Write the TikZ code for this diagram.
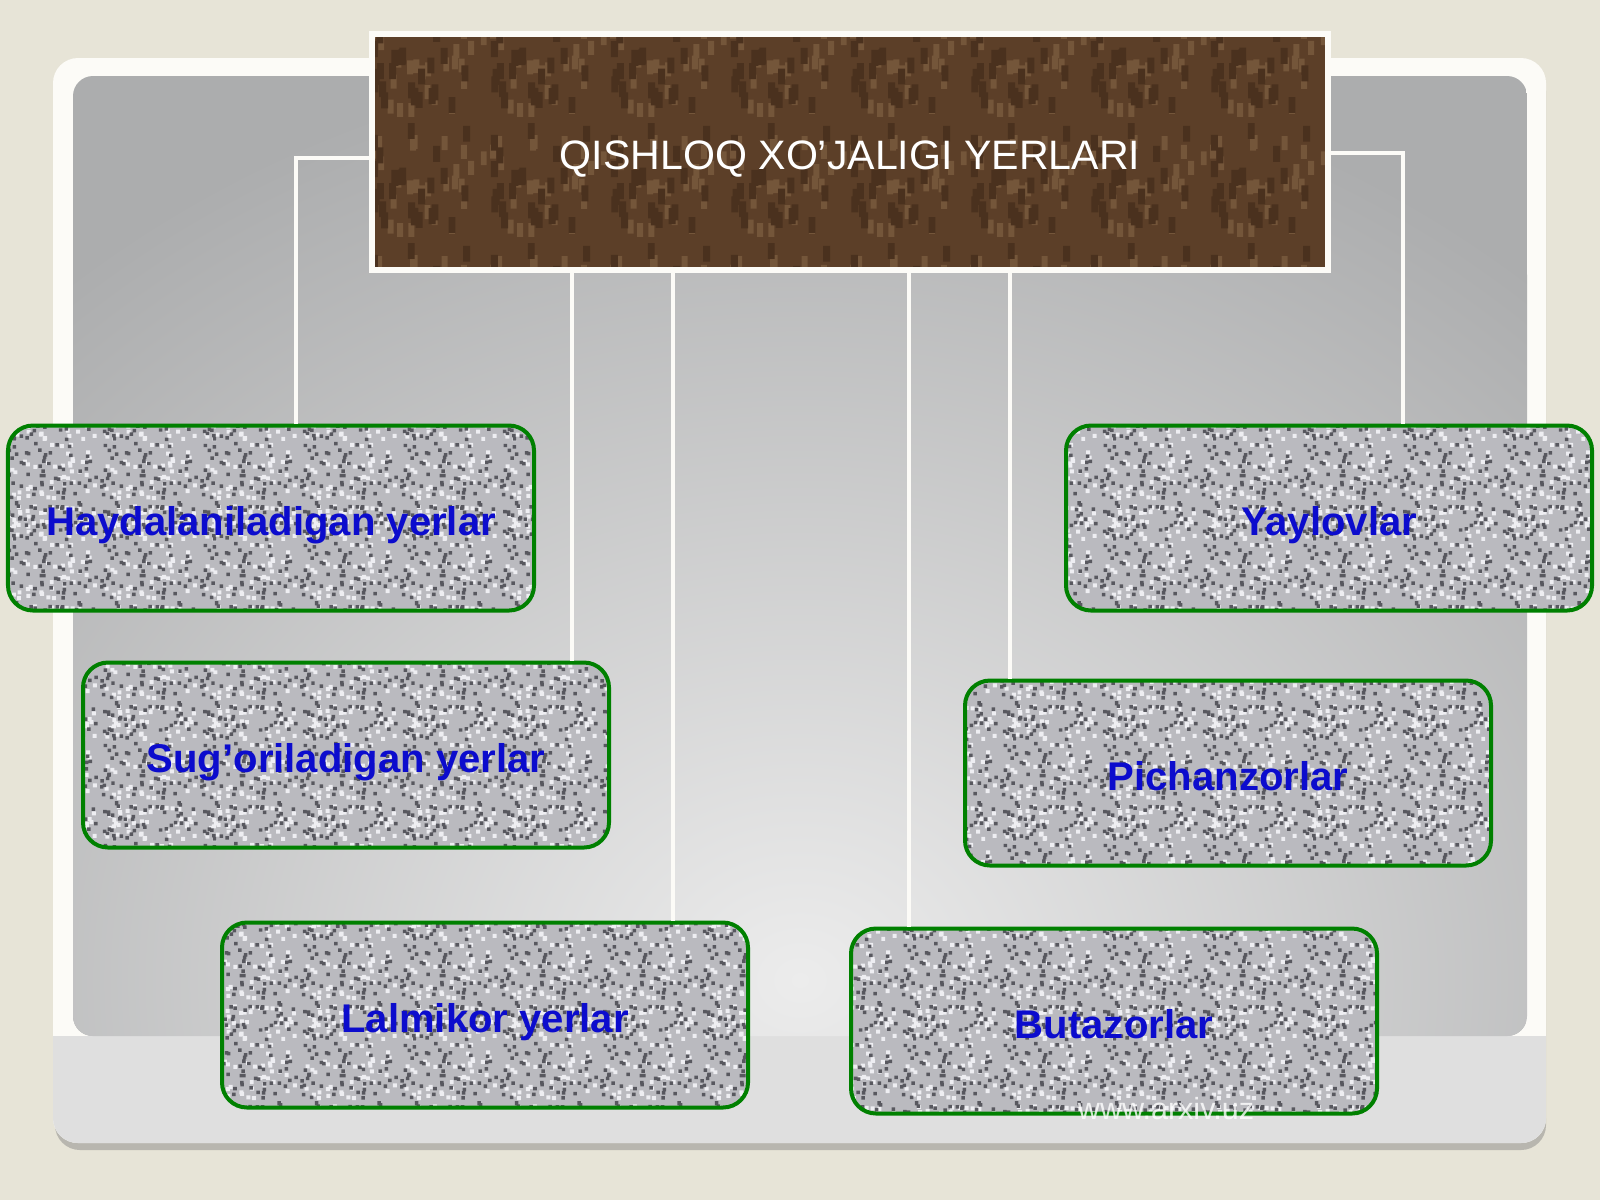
\documentclass[tikz,border=0pt]{standalone}
\usepackage{fontspec}
\setmainfont{Liberation Sans}
\usepackage{xcolor}
\usepackage{tikz}
\usetikzlibrary{calc, backgrounds, patterns, positioning}
\definecolor{beige}{RGB}{231,228,215}
\definecolor{framewhite}{RGB}{252,251,247}
\definecolor{frameshadow}{RGB}{184,182,175}
\definecolor{bandgray}{RGB}{223,223,223}
\definecolor{paneldark}{RGB}{172,173,174}
\definecolor{panellight}{RGB}{236,236,236}
\definecolor{boxgreen}{RGB}{0,128,0}
\definecolor{boxgray}{RGB}{186,186,191}
\definecolor{speckdark}{RGB}{88,88,95}
\definecolor{specklight}{RGB}{238,238,242}
\definecolor{labelblue}{RGB}{12,12,205}
\definecolor{soilbrown}{RGB}{92,63,40}
\definecolor{soillight}{RGB}{116,86,58}
\definecolor{soildark}{RGB}{74,49,30}
\pgfmathsetseed{7}
% granite and marble grains as tiled patterns
\pgfdeclarepatternformonly{granitedark}{\pgfpointorigin}{\pgfpoint{10mm}{10mm}}{\pgfpoint{10mm}{10mm}}{
  \foreach \k in {1,...,110}{
    \pgfmathsetmacro{\gx}{9.65*rnd}\pgfmathsetmacro{\gy}{9.65*rnd}
    \pgfpathrectangle{\pgfpoint{\gx mm}{\gy mm}}{\pgfpoint{0.35mm}{0.35mm}}}
  \pgfusepath{fill}}
\pgfdeclarepatternformonly{granitelight}{\pgfpointorigin}{\pgfpoint{10mm}{10mm}}{\pgfpoint{10mm}{10mm}}{
  \foreach \k in {1,...,90}{
    \pgfmathsetmacro{\gx}{9.6*rnd}\pgfmathsetmacro{\gy}{9.6*rnd}
    \pgfpathrectangle{\pgfpoint{\gx mm}{\gy mm}}{\pgfpoint{0.4mm}{0.4mm}}}
  \pgfusepath{fill}}
\pgfdeclarepatternformonly{marbledark}{\pgfpointorigin}{\pgfpoint{12mm}{12mm}}{\pgfpoint{12mm}{12mm}}{
  \foreach \k in {1,...,26}{
    \pgfmathsetmacro{\gx}{11.3*rnd}\pgfmathsetmacro{\gy}{10.4*rnd}
    \pgfpathrectangle{\pgfpoint{\gx mm}{\gy mm}}{\pgfpoint{0.7mm}{1.6mm}}}
  \pgfusepath{fill}}
\pgfdeclarepatternformonly{marblelight}{\pgfpointorigin}{\pgfpoint{12mm}{12mm}}{\pgfpoint{12mm}{12mm}}{
  \foreach \k in {1,...,26}{
    \pgfmathsetmacro{\gx}{11.4*rnd}\pgfmathsetmacro{\gy}{10.6*rnd}
    \pgfpathrectangle{\pgfpoint{\gx mm}{\gy mm}}{\pgfpoint{0.6mm}{1.4mm}}}
  \pgfusepath{fill}}
\tikzset{
    titlenode/.style = {draw=framewhite, line width=0.6mm, rectangle,
      preaction={fill=soilbrown}, preaction={pattern=marblelight, pattern color=soillight},
      pattern=marbledark, pattern color=soildark,
      minimum width=95.6mm, minimum height=23.6mm, inner sep=0em, node distance=0em,
      text height=3.54mm, text depth=0mm, text=white, font=\fontsize{11.7}{14}\selectfont},
    roundnode/.style = {draw=boxgreen, line width=0.4mm, rectangle, rounded corners=2.5mm,
      preaction={fill=boxgray}, preaction={pattern=granitelight, pattern color=specklight},
      pattern=granitedark, pattern color=speckdark,
      minimum width=52.6mm, minimum height=18.5mm, inner sep=0em, node distance=0em,
      text height=3.46mm, text depth=0mm, text=labelblue, font=\fontsize{11.4}{14}\selectfont\bfseries},
    textnode/.style = {draw=none, fill=none, rectangle, inner sep=0em, node distance=0em,
      text=white, text opacity=0.8, font=\fontsize{8.7}{10}\selectfont},
    connect/.style = {draw=framewhite, line width=0.45mm}
}

\begin{document}
\begin{tikzpicture}
    \useasboundingbox (0,0) rectangle (16,-12);

    \node [name=title, titlenode] at (8.5,-1.52) {QISHLOQ XO’JALIGI YERLARI};

    \node [name=arable, roundnode, below of = title, xshift=-57.9mm, yshift=-36.6mm] {Haydalaniladigan yerlar};
    \node [name=irrigated, roundnode, below of = title, xshift=-50.4mm, yshift=-60.3mm] {Sug’oriladigan yerlar};
    \node [name=dryland, roundnode, below of = title, xshift=-36.5mm, yshift=-86.3mm] {Lalmikor yerlar};
    \node [name=pasture, roundnode, below of = title, xshift=47.9mm, yshift=-36.6mm] {Yaylovlar};
    \node [name=hayfield, roundnode, below of = title, xshift=37.8mm, yshift=-62.1mm] {Pichanzorlar};
    \node [name=shrubland, roundnode, below of = title, xshift=26.4mm, yshift=-86.9mm] {Butazorlar};

    \node [name=site, textnode, below of = title, xshift=31.6mm, yshift=-95.7mm] {www.arxiv.uz};

    \draw[connect] ([yshift=-0.6mm]title.west) -| ([xshift=2.5mm]arable.north);
    \draw[connect] ([yshift=-0.1mm]title.east) -| ([xshift=7.4mm]pasture.north);
    \draw[connect] ([xshift=22.6mm]irrigated.north) -- ([xshift=22.6mm]title.south -| irrigated.north);
    \draw[connect] ([xshift=18.8mm]dryland.north) -- ([xshift=18.8mm]title.south -| dryland.north);
    \draw[connect] ([xshift=-20.5mm]shrubland.north) -- ([xshift=-20.5mm]title.south -| shrubland.north);
    \draw[connect] ([xshift=-21.8mm]hayfield.north) -- ([xshift=-21.8mm]title.south -| hayfield.north);

    \begin{scope}[on background layer]
      \fill[beige] (0,0) rectangle (16,-12);
      \fill[frameshadow, rounded corners=2.5mm] (0.55,-0.66) rectangle (15.46,-11.50);
      \fill[framewhite, rounded corners=2.5mm] (0.53,-0.58) rectangle (15.46,-11.43);
      \begin{scope}
        \clip[rounded corners=2.5mm] (0.53,-0.58) rectangle (15.46,-11.43);
        \fill[bandgray] (0.53,-10.36) rectangle (15.46,-11.43);
      \end{scope}
      \begin{scope}
        \clip[rounded corners=2mm] (0.73,-0.76) rectangle (15.27,-10.36);
        \fill[paneldark] (0.73,-0.76) rectangle (15.27,-10.36);
        \shade[inner color=panellight, outer color=paneldark] (8,-9.8) ellipse (11 and 9.4);
      \end{scope}
    \end{scope}
\end{tikzpicture}
\end{document}
